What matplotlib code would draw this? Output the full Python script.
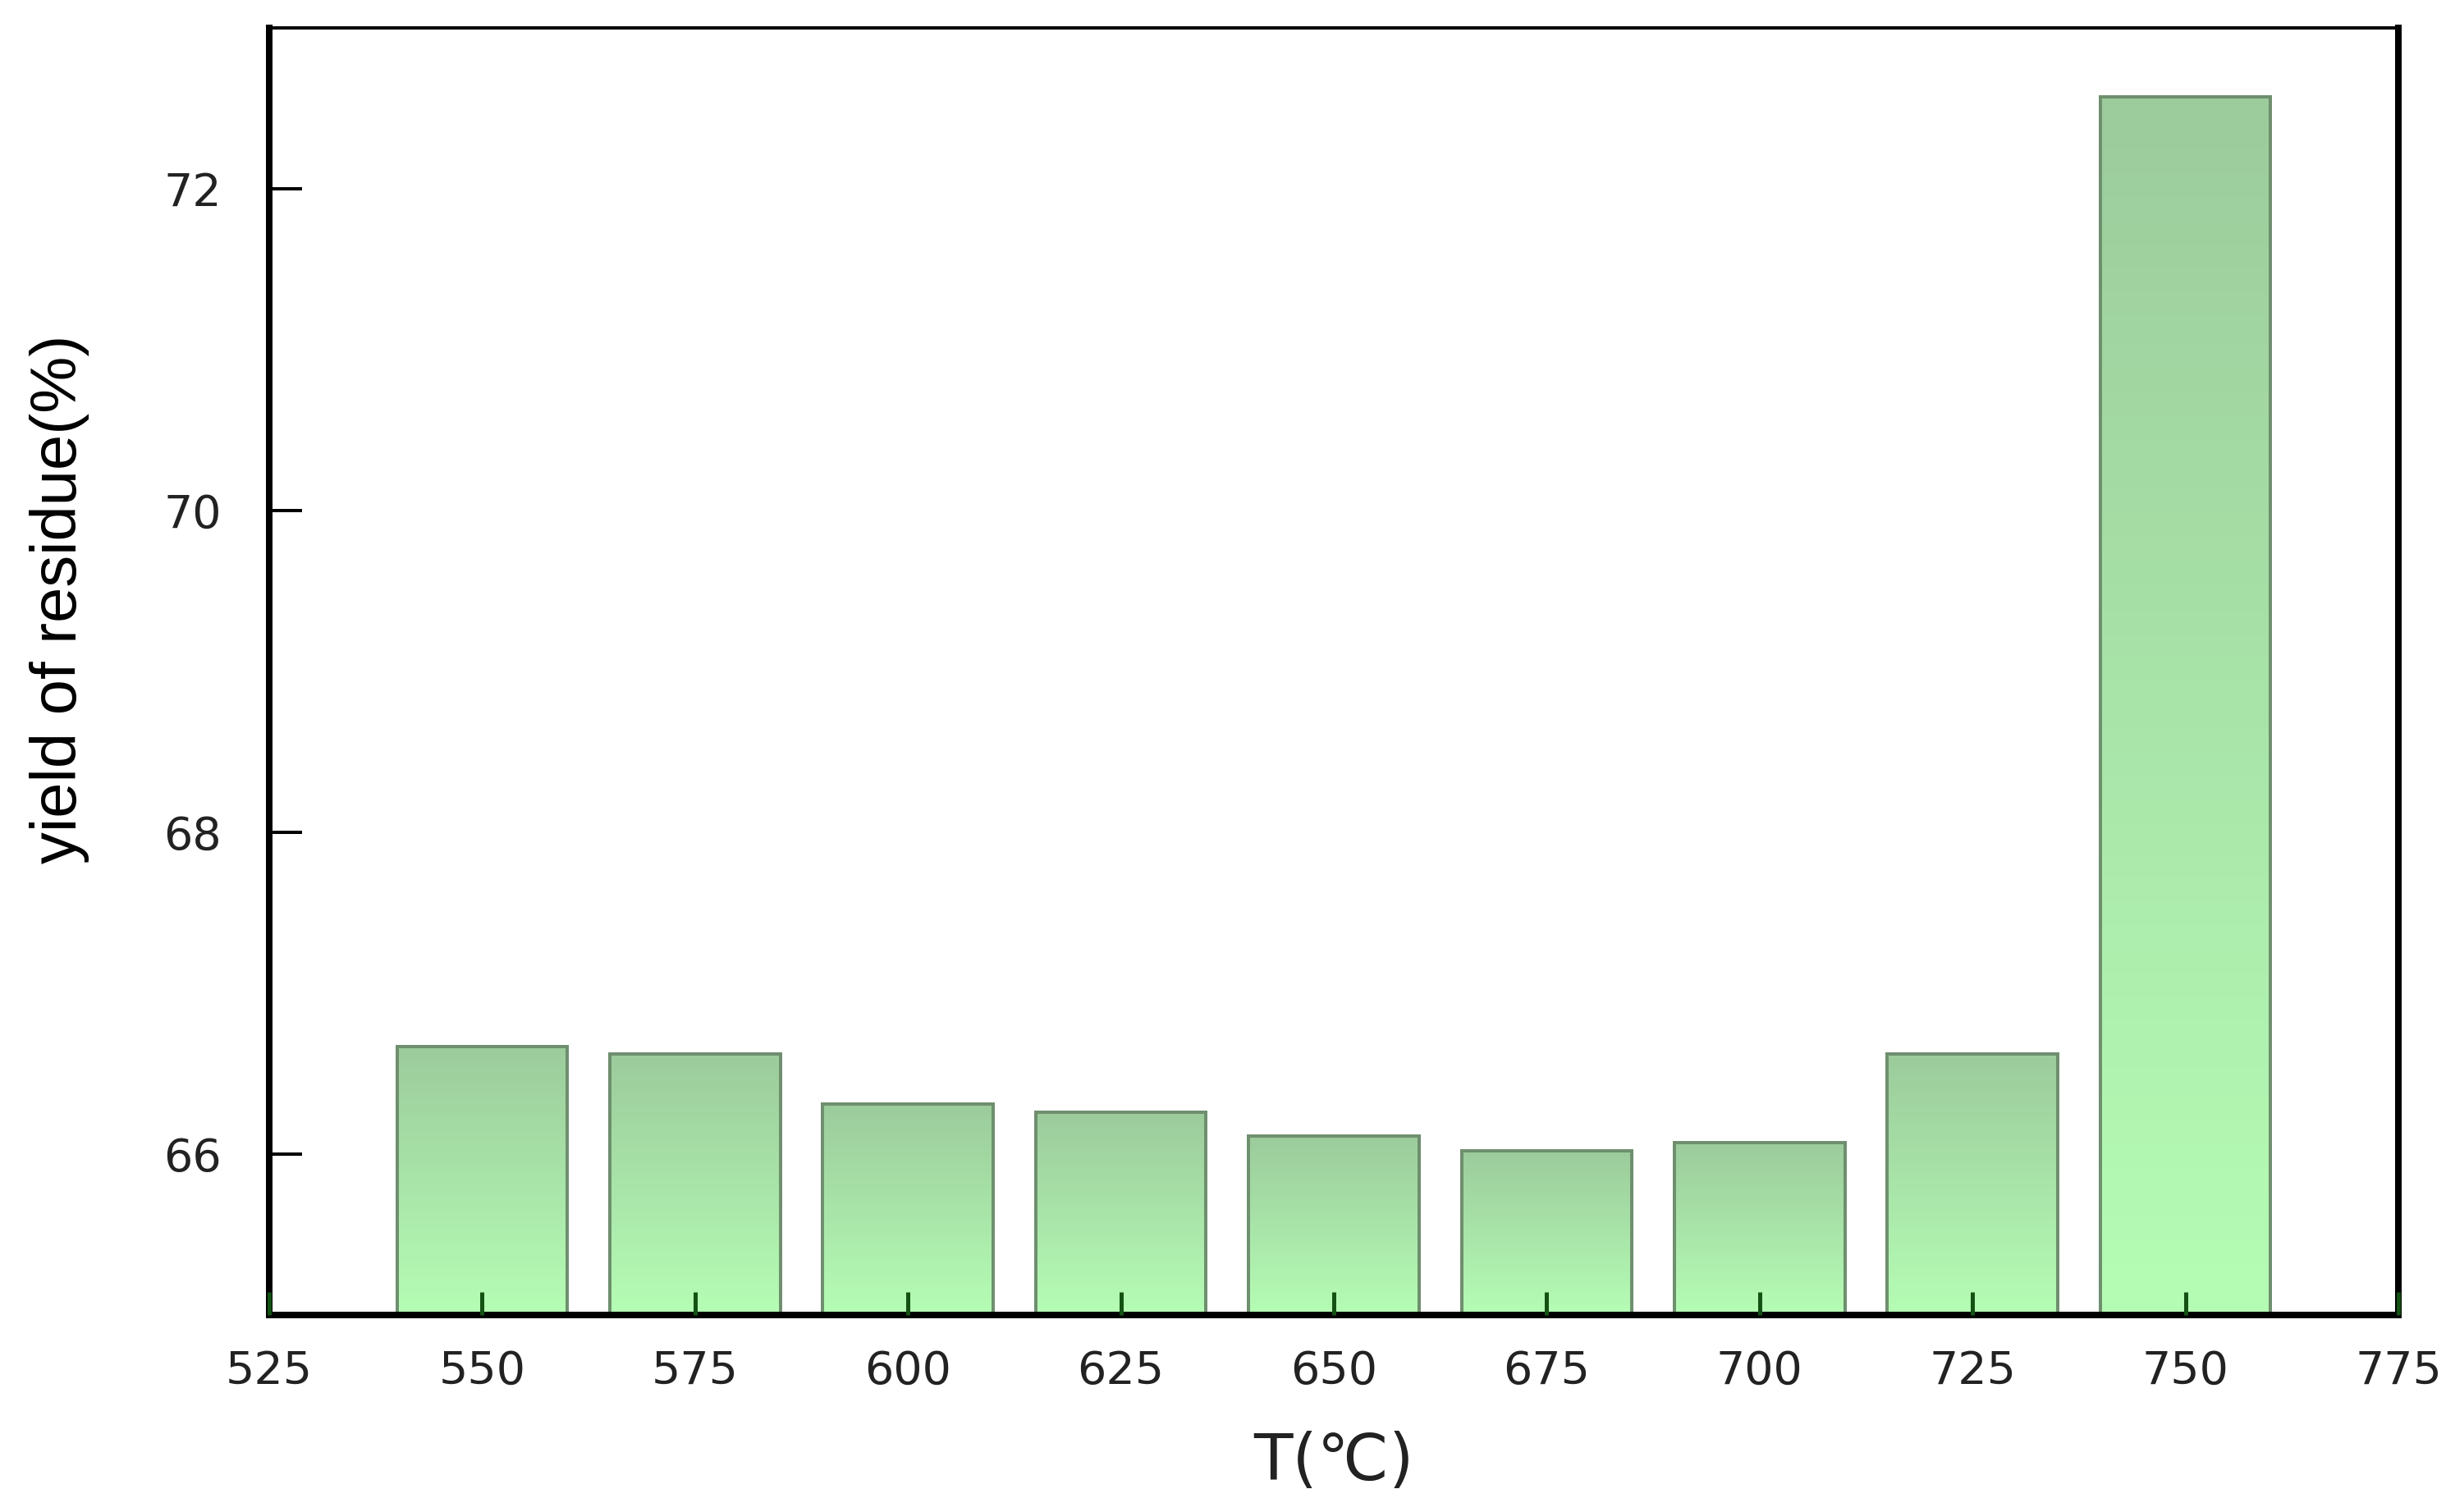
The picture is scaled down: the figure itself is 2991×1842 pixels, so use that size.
import numpy as np
import matplotlib
matplotlib.use("Agg")
import matplotlib.pyplot as plt
from matplotlib.colors import LinearSegmentedColormap

# data
temps = [550, 575, 600, 625, 650, 675, 700, 725, 750]
yields = [66.67, 66.62, 66.31, 66.26, 66.11, 66.02, 66.07, 66.62, 72.57]
x_ticks = [525, 550, 575, 600, 625, 650, 675, 700, 725, 750, 775]
y_ticks = [66, 68, 70, 72]

dpi = 100
fig = plt.figure(figsize=(29.91, 18.42), dpi=dpi)
ax = fig.add_axes([328 / 2991, 1 - 1602 / 1842, (2922 - 328) / 2991, (1602 - 34) / 1842])

px = 72.0 / dpi  # one pixel in points

bars = ax.bar(temps, yields, width=20, bottom=0, color='none',
              edgecolor='#6f8f6f', linewidth=4 * px, zorder=2)

# vertical gradient inside each bar (darker at the top)
cmap = LinearSegmentedColormap.from_list('grn', ['#b5fdb5', '#9ccb9c'])
grad = np.linspace(0, 1, 256).reshape(-1, 1)
ax.set_xlim(525, 775)
ax.set_ylim(65, 73)
for b in bars:
    x0 = b.get_x()
    w = b.get_width()
    top = b.get_height()
    im = ax.imshow(grad, cmap=cmap, origin='lower', aspect='auto',
                   extent=[x0, x0 + w, 65, top], zorder=1.5)
    im.set_clip_path(b)
ax.set_xlim(525, 775)
ax.set_ylim(65, 73)

ax.set_axisbelow(False)
ax.set_xticks(x_ticks)
ax.set_yticks(y_ticks)
ax.tick_params(axis='x', direction='in', length=28 * px, width=5 * px,
               color='#145214', labelsize=40, pad=30, top=False)
ax.tick_params(axis='y', direction='in', length=40 * px, width=4 * px,
               color='black', labelsize=40, pad=42, right=False)
for lab in ax.get_xticklabels() + ax.get_yticklabels():
    lab.set_color('#222222')

for side in ['left', 'bottom', 'right']:
    ax.spines[side].set_linewidth(8 * px)
ax.spines['top'].set_linewidth(4 * px)

ax.set_xlabel('T(℃)', fontsize=56, color='#222222')
ax.xaxis.set_label_coords(0.5, -0.09)
ax.set_ylabel('yield of residue(%)', fontsize=56, family=['Liberation Sans', 'DejaVu Sans'])
ax.yaxis.set_label_coords(-0.0846, 0.556)

fig.savefig('out.png', dpi=dpi)
